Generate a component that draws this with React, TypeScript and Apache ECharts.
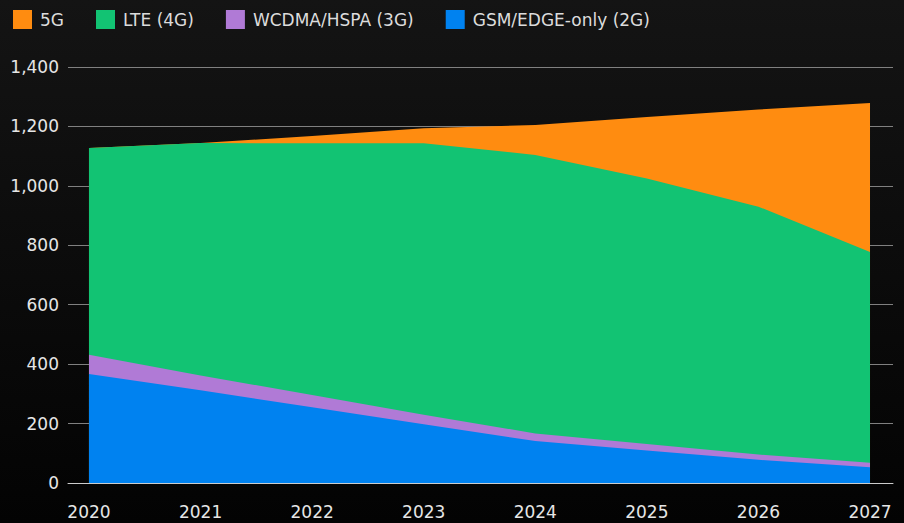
import React, { useEffect, useRef } from "react";
import * as echarts from "echarts";

const years = [2020, 2021, 2022, 2023, 2024, 2025, 2026, 2027];
const gsm = [367, 312, 255, 198, 141, 109, 78, 53];
const wcdma = [65, 50, 41, 32, 26, 22, 18, 15];
const lte = [695, 782, 847, 913, 937, 894, 834, 709];
const fiveG = [0, 0, 25, 51, 101, 207, 327, 502];
const yTicks = [0, 200, 400, 600, 800, 1000, 1200, 1400];

const seriesNames = ["GSM/EDGE-only (2G)", "WCDMA/HSPA (3G)", "LTE (4G)", "5G"];
const seriesValues = [gsm, wcdma, lte, fiveG];
const seriesColors = ["#0082F0", "#B07AD6", "#12C373", "#FF8C10"];
const legendOrder = ["5G", "LTE (4G)", "WCDMA/HSPA (3G)", "GSM/EDGE-only (2G)"];

export default function App() {
  const ref = useRef<HTMLDivElement>(null);
  useEffect(() => {
    if (!ref.current) return;
    const chart = echarts.init(ref.current, undefined, { renderer: "svg" });
    const font = "DejaVu Sans";
    // cumulative tops (stacking done here so that a value x-axis can be used)
    const cumulative: number[][] = [];
    seriesValues.forEach((vals, i) => {
      cumulative.push(vals.map((v, j) => v + (i > 0 ? cumulative[i - 1][j] : 0)));
    });
    chart.setOption({
      animation: false,
      backgroundColor: {
        type: "linear",
        x: 0,
        y: 0,
        x2: 0,
        y2: 1,
        colorStops: [
          { offset: 0, color: "#141414" },
          { offset: 1, color: "#030303" },
        ],
      },
      legend: {
        data: legendOrder,
        left: 8,
        top: 5,
        icon: "rect",
        itemWidth: 19,
        itemHeight: 19,
        itemGap: 32,
        textStyle: { color: "#dcdcdc", fontSize: 17, fontFamily: font, padding: [0, 0, 0, 3] },
      },
      grid: { left: 68, right: 11, top: 67, bottom: 40, containLabel: false },
      xAxis: {
        type: "value",
        min: 2019.812,
        max: 2027.206,
        splitLine: { show: false },
        axisTick: { show: false },
        axisLine: { show: true, lineStyle: { color: "#cccccc", width: 1 } },
        axisLabel: {
          customValues: years,
          formatter: (v: number) => String(v),
          color: "#e6e6e6",
          fontSize: 17,
          fontFamily: font,
          margin: 20,
        },
      },
      yAxis: {
        type: "value",
        min: 0,
        max: 1400,
        interval: 200,
        axisLine: { show: false },
        axisTick: { show: false },
        splitLine: { show: true, lineStyle: { color: "#808080", width: 1 } },
        axisLabel: {
          customValues: yTicks,
          formatter: (v: number) => v.toLocaleString("en-US"),
          color: "#e6e6e6",
          fontSize: 17,
          fontFamily: font,
          margin: 9,
        },
      },
      series: seriesNames.map((name, i) => ({
        name,
        type: "line",
        data: years.map((y, j) => [y, cumulative[i][j]]),
        symbol: "none",
        showSymbol: false,
        lineStyle: { width: 0 },
        itemStyle: { color: seriesColors[i] },
        color: seriesColors[i],
        areaStyle: { color: seriesColors[i], opacity: 1 },
        z: 2 + (seriesNames.length - i),
      })),
    });
    return () => chart.dispose();
  }, []);
  return (
    <div
      ref={ref}
      style={{ position: "fixed", left: 0, top: 0, width: 904, height: 523 }}
    />
  );
}
